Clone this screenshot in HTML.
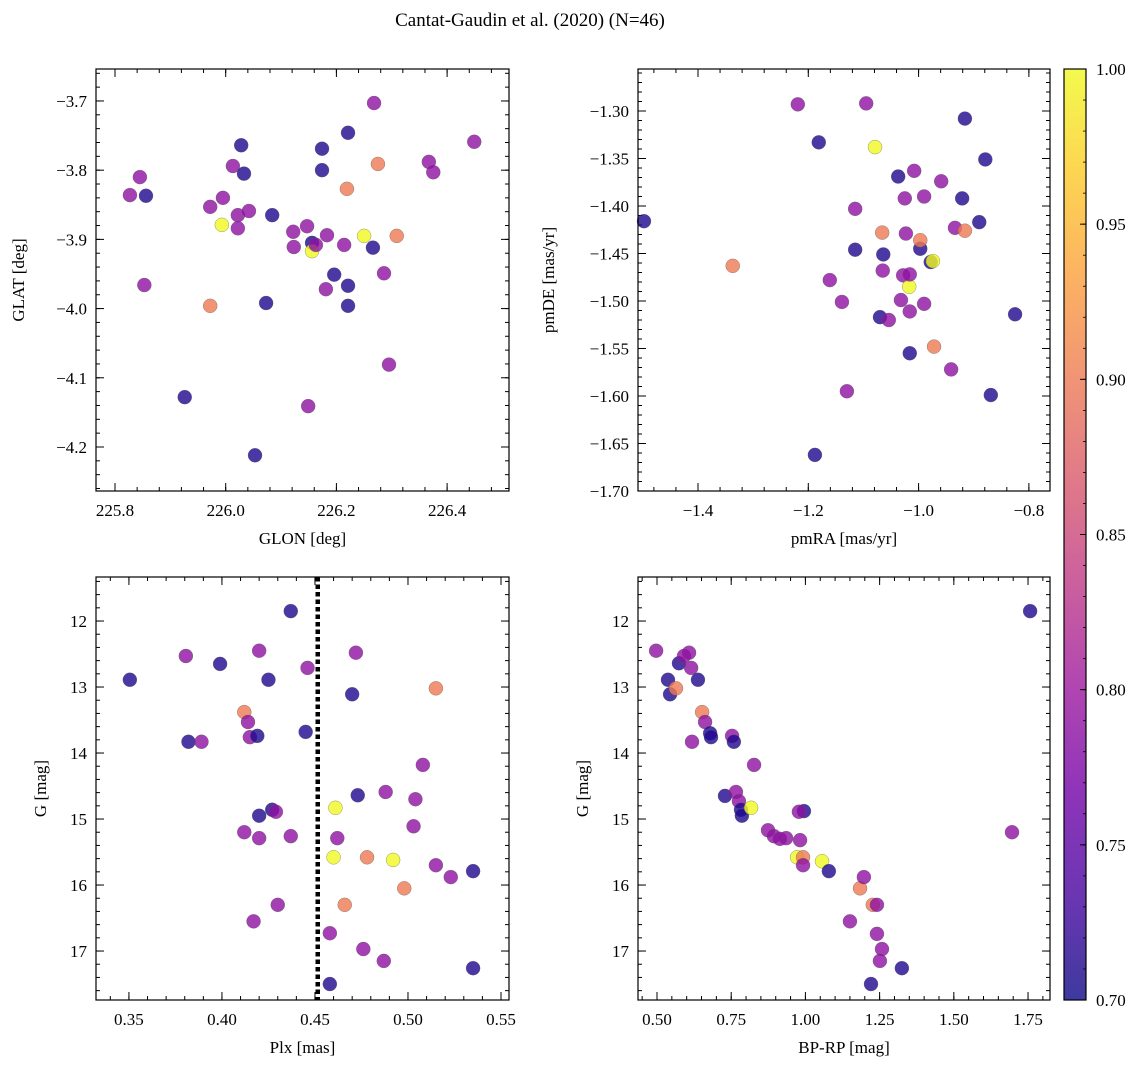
<!DOCTYPE html>
<html><head><meta charset="utf-8">
<style>
html,body{margin:0;padding:0;background:#fff;}
svg{display:block;font-family:"Liberation Serif","DejaVu Serif",serif;}
</style></head>
<body>
<svg id="fig" width="1148" height="1068" viewBox="0 0 1148 1068" xmlns="http://www.w3.org/2000/svg">
<text x="530" y="26" font-size="19" text-anchor="middle">Cantat-Gaudin et al. (2020) (N=46)</text>
</svg>
<script>
// Panel 1: GLON / GLAT
const glonX=[225.827,225.845,225.856,225.853,225.926,225.972,225.972,225.995,225.993,226.013,226.022,226.022,226.042,226.028,226.033,226.053,226.073,226.084,226.122,226.123,226.147,226.149,226.156,226.156,226.163,226.174,226.174,226.183,226.181,226.196,226.214,226.221,226.221,226.219,226.221,226.250,226.266,226.268,226.275,226.286,226.295,226.309,226.367,226.375,226.449];
const glatY=[-3.836,-3.810,-3.837,-3.966,-4.128,-3.853,-3.996,-3.840,-3.879,-3.794,-3.865,-3.884,-3.859,-3.764,-3.805,-4.212,-3.992,-3.865,-3.889,-3.911,-3.881,-4.141,-3.905,-3.917,-3.908,-3.769,-3.800,-3.894,-3.972,-3.951,-3.908,-3.967,-3.746,-3.827,-3.996,-3.895,-3.912,-3.703,-3.791,-3.949,-4.081,-3.895,-3.788,-3.803,-3.759];
const glatP=[0.79,0.79,0.71,0.79,0.71,0.79,0.90,0.79,1.0,0.79,0.79,0.79,0.79,0.71,0.71,0.71,0.71,0.71,0.79,0.79,0.79,0.79,0.71,1.0,0.79,0.71,0.71,0.79,0.79,0.71,0.79,0.71,0.71,0.90,0.71,1.0,0.71,0.79,0.90,0.79,0.79,0.90,0.79,0.79,0.79];
// Panel 2: pmRA / pmDE
const pmraX=[-1.498,-1.337,-1.219,-1.181,-1.188,-1.161,-1.139,-1.130,-1.115,-1.115,-1.095,-1.079,-1.070,-1.066,-1.065,-1.064,-1.054,-1.037,-1.032,-1.028,-1.025,-1.023,-1.017,-1.016,-1.016,-1.016,-1.008,-0.997,-0.997,-0.990,-0.990,-0.978,-0.974,-0.972,-0.959,-0.941,-0.934,-0.921,-0.916,-0.916,-0.890,-0.879,-0.869,-0.825];
const pmdeY=[-1.416,-1.463,-1.293,-1.333,-1.662,-1.478,-1.501,-1.595,-1.403,-1.446,-1.292,-1.338,-1.517,-1.428,-1.468,-1.451,-1.520,-1.369,-1.499,-1.473,-1.392,-1.429,-1.485,-1.555,-1.472,-1.511,-1.363,-1.445,-1.436,-1.390,-1.503,-1.459,-1.458,-1.548,-1.374,-1.572,-1.423,-1.392,-1.426,-1.308,-1.417,-1.351,-1.599,-1.514];
const pmP=[0.71,0.90,0.79,0.71,0.71,0.79,0.79,0.79,0.79,0.71,0.79,1.0,0.71,0.90,0.79,0.71,0.79,0.71,0.79,0.79,0.79,0.79,1.0,0.71,0.79,0.79,0.79,0.71,0.90,0.79,0.79,0.71,1.0,0.90,0.79,0.79,0.79,0.71,0.90,0.71,0.71,0.71,0.71,0.71];
// Panel 3: Plx / G
const plxX=[0.3505,0.3806,0.382,0.389,0.399,0.412,0.412,0.414,0.415,0.417,0.419,0.420,0.420,0.420,0.425,0.427,0.429,0.430,0.437,0.437,0.445,0.446,0.458,0.458,0.461,0.460,0.462,0.466,0.470,0.472,0.473,0.476,0.478,0.487,0.488,0.492,0.498,0.503,0.504,0.508,0.515,0.515,0.523,0.535,0.535];
const plxG=[12.89,12.53,13.83,13.83,12.65,13.38,15.20,13.53,13.76,16.55,13.74,12.45,14.95,15.29,12.89,14.86,14.89,16.30,11.85,15.26,13.68,12.71,16.73,17.50,14.83,15.58,15.29,16.30,13.11,12.48,14.64,16.97,15.58,17.15,14.59,15.62,16.05,15.11,14.70,14.18,13.02,15.70,15.88,15.79,17.26];
const plxP=[0.71,0.79,0.71,0.79,0.71,0.90,0.79,0.79,0.79,0.79,0.71,0.79,0.71,0.79,0.71,0.71,0.79,0.79,0.71,0.79,0.71,0.79,0.79,0.71,1.0,1.0,0.79,0.90,0.71,0.79,0.71,0.79,0.90,0.79,0.79,1.0,0.90,0.79,0.79,0.79,0.90,0.79,0.79,0.71,0.71];
const plxCut=[0.4515];
// Panel 4: BP-RP / G
const bprpX=[0.497,0.537,0.544,0.564,0.574,0.591,0.608,0.615,0.618,0.638,0.652,0.662,0.679,0.682,0.729,0.753,0.759,0.766,0.776,0.783,0.786,0.817,0.827,0.874,0.894,0.914,0.935,0.972,0.982,0.992,0.992,0.995,0.978,1.056,1.079,1.184,1.197,1.150,1.227,1.241,1.241,1.258,1.251,1.221,1.325,1.696,1.757];
const bprpG=[12.45,12.89,13.11,13.02,12.64,12.53,12.48,12.71,13.83,12.89,13.38,13.53,13.70,13.76,14.65,13.74,13.83,14.59,14.73,14.86,14.95,14.83,14.18,15.17,15.26,15.30,15.29,15.58,15.32,15.58,15.70,14.88,14.89,15.64,15.79,16.05,15.88,16.55,16.30,16.30,16.74,16.97,17.15,17.50,17.26,15.20,11.85];
const bprpP=[0.79,0.71,0.71,0.90,0.71,0.79,0.79,0.79,0.79,0.71,0.90,0.79,0.71,0.71,0.71,0.79,0.71,0.79,0.79,0.71,0.71,1.0,0.79,0.79,0.79,0.79,0.79,1.0,0.79,0.90,0.79,0.71,0.79,1.0,0.71,0.90,0.79,0.79,0.90,0.79,0.79,0.79,0.79,0.71,0.71,0.79,0.71];
// Colorbar
const cbTicks=[0.70,0.75,0.80,0.85,0.90,0.95,1.00];

const NS="http://www.w3.org/2000/svg";
const svg=document.getElementById('fig');
const plasma=["#0d0887","#46039f","#7201a8","#9c179e","#bd3786","#d8576b","#ed7953","#fb9f3a","#fdca26","#f0f921"];
function hex(h){return [1,3,5].map(i=>parseInt(h.substr(i,2),16));}
function cmap(p){let t=(p-0.7)/0.3;t=Math.max(0,Math.min(1,t));const f=t*(plasma.length-1);const i=Math.min(Math.floor(f),plasma.length-2);const u=f-i;const a=hex(plasma[i]),b=hex(plasma[i+1]);return 'rgb('+a.map((v,k)=>Math.round(v+(b[k]-v)*u)).join(',')+')';}
function el(tag,attrs,parent){const e=document.createElementNS(NS,tag);for(const k in attrs)e.setAttribute(k,attrs[k]);(parent||svg).appendChild(e);return e;}

function panel(cfg){
  const g=el('g',{});
  
  
  const {L,R,T,B,x0,x1,y0,y1}=cfg;
  const sx=v=>L+(v-x0)/(x1-x0)*(R-L);
  const sy=cfg.invert?(v=>T+(v-y0)/(y1-y0)*(B-T)):(v=>B-(v-y0)/(y1-y0)*(B-T));
  const tg=el('g',{stroke:'#000','stroke-width':1},g);
  function ticks(start,end,step,len,isX,labels,fmt){
    const n=Math.round((end-start)/step);
    for(let i=0;i<=n;i++){const v=start+i*step;
      if(isX){const x=sx(v);if(x<L-0.5||x>R+0.5)continue;
        el('line',{x1:x,x2:x,y1:B,y2:B-len},tg);el('line',{x1:x,x2:x,y1:T,y2:T+len},tg);
        if(labels){const t=el('text',{x:x,y:B+25,'font-size':17,'text-anchor':'middle',stroke:'none'},g);t.textContent=fmt(v);}
      }else{const y=sy(v);if(y<T-0.5||y>B+0.5)continue;
        el('line',{x1:L,x2:L+len,y1:y,y2:y},tg);el('line',{x1:R,x2:R-len,y1:y,y2:y},tg);
        if(labels){const t=el('text',{x:L-9,y:y+6,'font-size':17,'text-anchor':'end',stroke:'none'},g);t.textContent=fmt(v);}
      }}
  }
  ticks(cfg.xmin[0],cfg.xmin[1],cfg.xmin[2],4,true,false);
  ticks(cfg.xmaj[0],cfg.xmaj[1],cfg.xmaj[2],8,true,true,cfg.xfmt);
  ticks(cfg.ymin[0],cfg.ymin[1],cfg.ymin[2],4,false,false);
  ticks(cfg.ymaj[0],cfg.ymaj[1],cfg.ymaj[2],8,false,true,cfg.yfmt);
  if(cfg.vline){for(const v of cfg.vline){const l=el('line',{x1:sx(v),x2:sx(v),y1:T,y2:B,stroke:'#000','stroke-width':4.5,'stroke-dasharray':'4.5,3'},g);}}
  for(let i=0;i<cfg.xs.length;i++){
    const c=el('circle',{cx:sx(cfg.xs[i]),cy:sy(cfg.ys[i]),r:7,fill:cmap(cfg.ps[i]),'fill-opacity':0.8,stroke:'#555','stroke-opacity':0.6,'stroke-width':0.5},g);
    
    
  }
  el('rect',{x:L,y:T,width:R-L,height:B-T,fill:'none',stroke:'#000','stroke-width':1.2},g);
  const xl=el('text',{x:(L+R)/2,y:B+53,'font-size':17,'text-anchor':'middle'},g);xl.textContent=cfg.xlabel;
  
  const yl=el('text',{x:cfg.ylx,y:(T+B)/2,'font-size':17,'text-anchor':'middle',transform:`rotate(-90 ${cfg.ylx} ${(T+B)/2})`},g);yl.textContent=cfg.ylabel;
  
}
const f1=v=>v.toFixed(1).replace('-','\u2212');
const f2=v=>v.toFixed(2).replace('-','\u2212');
const f0=v=>v.toFixed(0);
panel({name:'glon-glat-panel',L:96,R:509,T:69,B:491,x0:225.7657,x1:226.5118,y0:-4.2636,y1:-3.6538,
  xs:glonX,ys:glatY,ps:glatP,xmaj:[225.8,226.4,0.2],xmin:[225.76,226.52,0.04],ymaj:[-4.2,-3.7,0.1],ymin:[-4.26,-3.64,0.02],
  xfmt:f1,yfmt:f1,xlabel:'GLON [deg]',ylabel:'GLAT [deg]',ylx:24});
panel({name:'proper-motion-panel',L:638,R:1050,T:69,B:491,x0:-1.5088,x1:-0.7617,y0:-1.70,y1:-1.2558,
  xs:pmraX,ys:pmdeY,ps:pmP,xmaj:[-1.4,-0.8,0.2],xmin:[-1.52,-0.76,0.04],ymaj:[-1.70,-1.30,0.05],ymin:[-1.70,-1.26,0.01],
  xfmt:f1,yfmt:f2,xlabel:'pmRA [mas/yr]',ylabel:'pmDE [mas/yr]',ylx:554});
panel({name:'parallax-magnitude-panel',L:96,R:509,T:577,B:1000,x0:0.3323,x1:0.5543,y0:11.333,y1:17.742,invert:true,
  xs:plxX,ys:plxG,ps:plxP,vline:plxCut,xmaj:[0.35,0.55,0.05],xmin:[0.34,0.55,0.01],ymaj:[12,17,1],ymin:[11.4,17.6,0.2],
  xfmt:f2,yfmt:f0,xlabel:'Plx [mas]',ylabel:'G [mag]',ylx:46});
panel({name:'color-magnitude-panel',L:638,R:1050,T:577,B:1000,x0:0.436,x1:1.824,y0:11.333,y1:17.742,invert:true,
  xs:bprpX,ys:bprpG,ps:bprpP,xmaj:[0.5,1.75,0.25],xmin:[0.45,1.8,0.05],ymaj:[12,17,1],ymin:[11.4,17.6,0.2],
  xfmt:f2,yfmt:f0,xlabel:'BP-RP [mag]',ylabel:'G [mag]',ylx:588});

const cb=el('g',{});


const defs=el('defs',{},cb);
const lg=el('linearGradient',{id:'cbg',x1:0,y1:1,x2:0,y2:0},defs);
plasma.forEach((c,i)=>el('stop',{offset:i/(plasma.length-1),'stop-color':c,'stop-opacity':0.8},lg));
const CT=69,CB=1000,CL=1064,CR=1086;
el('rect',{x:CL,y:CT,width:CR-CL,height:CB-CT,fill:'url(#cbg)'},cb);
for(const v of cbTicks){const y=CB-(v-0.7)/0.3*(CB-CT);
  el('line',{x1:CR,x2:CR-6,y1:y,y2:y,stroke:'#000','stroke-width':1},cb);
  const t=el('text',{x:CR+10,y:y+6,'font-size':17},cb);t.textContent=v.toFixed(2);
  
  
}
for(let v=0.71;v<1.0;v+=0.01){const y=CB-(v-0.7)/0.3*(CB-CT);el('line',{x1:CR,x2:CR-3,y1:y,y2:y,stroke:'#000','stroke-width':0.8},cb);}
el('rect',{x:CL,y:CT,width:CR-CL,height:CB-CT,fill:'none',stroke:'#000','stroke-width':1.2},cb);
</script>
</body></html>
